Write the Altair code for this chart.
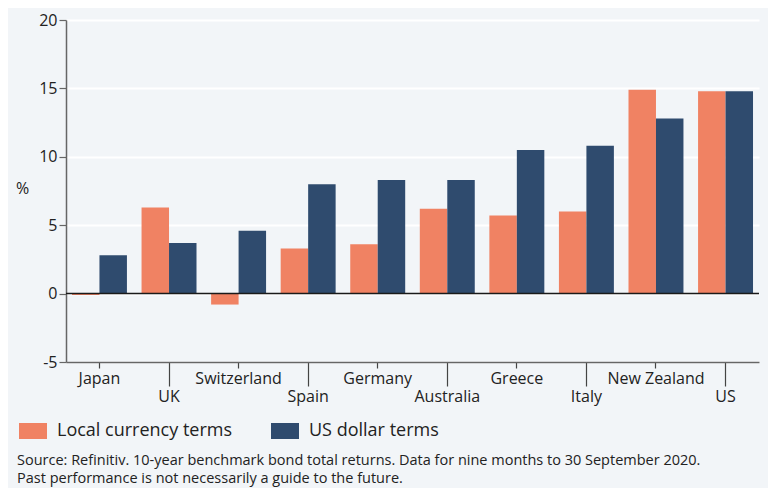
import altair as alt
import pandas as pd

countries = ["Japan", "UK", "Switzerland", "Spain", "Germany", "Australia",
             "Greece", "Italy", "New Zealand", "US"]
local_terms = [-0.1, 6.3, -0.8, 3.3, 3.6, 6.2, 5.7, 6.0, 14.9, 14.8]
usd_terms = [2.8, 3.7, 4.6, 8.0, 8.3, 8.3, 10.5, 10.8, 12.8, 14.8]
series = ["Local currency terms", "US dollar terms"]
colors = ["#F08263", "#2F4B6E"]
y_ticks = [-5, 0, 5, 10, 15, 20]
lower_labels = ["UK", "Spain", "Australia", "Italy", "US"]
source_lines = [
    "Source: Refinitiv. 10-year benchmark bond total returns. Data for nine months to 30 September 2020.",
    "Past performance is not necessarily a guide to the future.",
]

rows = []
for c, l, u in zip(countries, local_terms, usd_terms):
    rows.append({"country": c, "series": series[0], "value": l})
    rows.append({"country": c, "series": series[1], "value": u})
df = pd.DataFrame(rows)

FONT = "Open Sans"
lower_test = "indexof(" + str(lower_labels) + ", datum.value) >= 0"

bars = alt.Chart(df).mark_bar().encode(
    x=alt.X("country:N", sort=countries,
            scale=alt.Scale(paddingInner=0.21, paddingOuter=0.086),
            axis=alt.Axis(title=None, labelAngle=0, labelFontSize=16,
                          labelColor="#222222", labelFont=FONT,
                          domainColor="#666666", domainWidth=1.5,
                          tickColor="#444444", tickWidth=1.2,
                          tickSize={"condition": {"test": lower_test, "value": 24}, "value": 6},
                          labelPadding=2,
                          labelBaseline="top")),
    xOffset=alt.XOffset("series:N", sort=series),
    y=alt.Y("value:Q",
            scale=alt.Scale(domain=[-5, 20], nice=False, zero=False),
            axis=alt.Axis(values=y_ticks, title="%", titleAngle=0,
                          titleFont=FONT, titleFontSize=16, titleFontWeight="normal",
                          titleColor="#222222", titleX=-44, titleY=176,
                          labelExpr="'' + datum.value",
                          labelFont=FONT, labelFontSize=16, labelColor="#222222",
                          domainColor="#666666", domainWidth=1.5,
                          tickColor="#666666", tickSize=7, tickWidth=1.2,
                          gridColor="#ffffff", gridWidth=2)),
    color=alt.Color("series:N", sort=series,
                    scale=alt.Scale(domain=series, range=colors),
                    legend=alt.Legend(title=None, orient="none", direction="horizontal",
                                      legendX=-47, legendY=397,
                                      symbolType="M-1,-0.57H1V0.57H-1Z",
                                      symbolSize=784, symbolStrokeWidth=0,
                                      symbolOpacity=1, labelLimit=400,
                                      labelFont=FONT, labelFontSize=18,
                                      labelColor="#222222", labelOffset=10,
                                      columnPadding=38)),
)

zero = alt.Chart(pd.DataFrame({"v": [0]})).mark_rule(color="#1a1a1a", strokeWidth=1.5).encode(
    y="v:Q"
)

src = alt.Chart(pd.DataFrame({"t": ["\n".join(source_lines)]})).mark_text(
    align="left", baseline="middle", font=FONT, fontSize=14.5, color="#222222",
    lineBreak="\n", lineHeight=18
).encode(text="t:N", x=alt.value(-49), y=alt.value(441))

chart = alt.layer(bars, zero, src).properties(
    width=693, height=342,
    autosize=alt.AutoSizeParams(type="none"),
    padding={"left": 58, "top": 12, "right": 9, "bottom": 126},
    background="#F2F5F8",
).configure_view(stroke=None).configure_axis(grid=True).configure_axisX(grid=False)

chart.save("out.html", embed_options={"renderer": "svg", "actions": False})
